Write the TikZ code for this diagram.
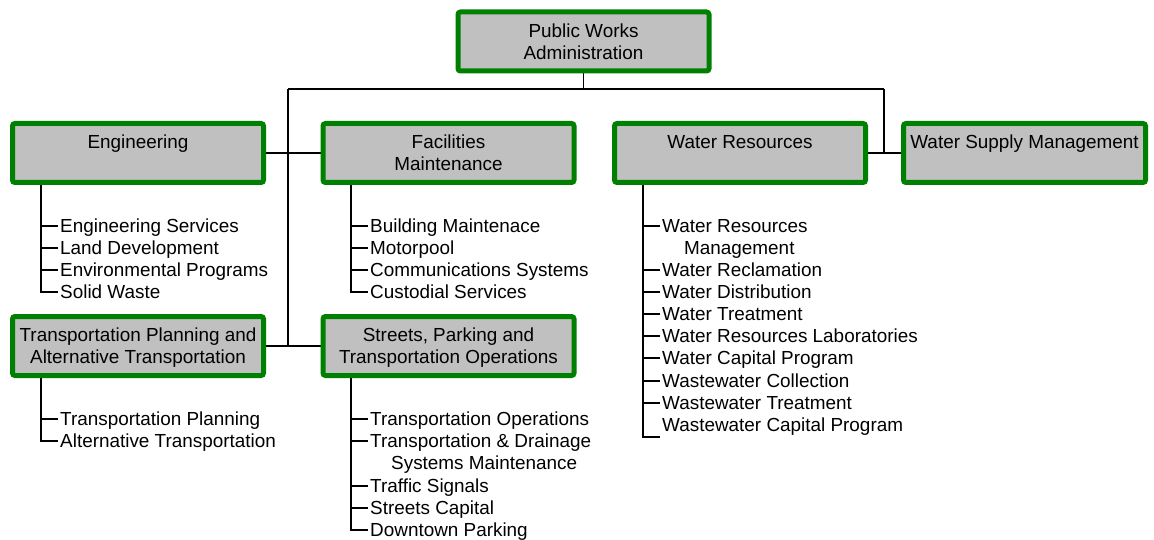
\documentclass[tikz,border=0pt]{standalone}
\usepackage{fontspec}
\setmainfont{Liberation Sans}
\pgfdeclarelayer{bg}
\pgfsetlayers{bg,main}
\definecolor{unitgreen}{HTML}{008000}
\definecolor{unitgray}{HTML}{C0C0C0}
\begin{document}
\begin{tikzpicture}[x=1pt,y=-1pt,
  unit/.style={draw=unitgreen, fill=unitgray, line width=5pt, rounded corners=2.5pt,
    minimum width=251pt, minimum height=59pt, inner sep=0pt, align=center,
    text height=13.4pt, text depth=22pt, font=\fontsize{18.9}{22}\selectfont},
  unit2/.style={unit, text height=35.4pt, text depth=0pt},
  item/.style={anchor=west, inner xsep=2pt, inner ysep=0pt,
    text height=13.4pt, text depth=0pt, font=\fontsize{18.9}{22}\selectfont},
  wire/.style={line width=1.4pt, black}]
\useasboundingbox (0,0) rectangle (1154,540);

% organisational units
\node[unit2] (pwa) at (583.5,41.5) {Public Works\\Administration};
\node[unit]  (eng) at (138,153) {Engineering};
\node[unit2] (fac) at (448.5,153) {Facilities\\Maintenance};
\node[unit]  (wr)  at (740,153) {Water Resources};
\node[unit, minimum width=242pt] (ws) at (1024.5,153) {Water Supply Management};
\node[unit2] (tpa) at (138,346) {Transportation Planning and\\Alternative Transportation};
\node[unit2] (spt) at (448.5,346) {Streets, Parking and\\Transportation Operations};

% Engineering programs
\node[item] (e1) at (58,226) {Engineering Services};
\node[item] (e2) at (58,248) {Land Development};
\node[item] (e3) at (58,270) {Environmental Programs};
\node[item] (e4) at (58,292) {Solid Waste};

% Facilities Maintenance programs
\node[item] (f1) at (368,226) {Building Maintenace};
\node[item] (f2) at (368,248) {Motorpool};
\node[item] (f3) at (368,270) {Communications Systems};
\node[item] (f4) at (368,292) {Custodial Services};

% Transportation Planning programs
\node[item] (t1) at (58,419) {Transportation Planning};
\node[item] (t2) at (58,441) {Alternative Transportation};

% Streets, Parking and Transportation Operations programs
\node[item] (s1)  at (368,419) {Transportation Operations};
\node[item] (s2)  at (368,441) {Transportation \& Drainage};
\node[item] (s2b) at (389,463) {Systems Maintenance};
\node[item] (s3)  at (368,486) {Traffic Signals};
\node[item] (s4)  at (368,508) {Streets Capital};
\node[item] (s5)  at (368,530) {Downtown Parking};

% Water Resources programs
\node[item] (w1)  at (660,226) {Water Resources};
\node[item] (w1b) at (682,248) {Management};
\node[item] (w2)  at (660,270) {Water Reclamation};
\node[item] (w3)  at (660,292) {Water Distribution};
\node[item] (w4)  at (660,314) {Water Treatment};
\node[item] (w5)  at (660,336) {Water Resources Laboratories};
\node[item] (w6)  at (660,358) {Water Capital Program};
\node[item] (w7)  at (660,381) {Wastewater Collection};
\node[item] (w8)  at (660,403) {Wastewater Treatment};
\node[item] (w9)  at (660,425) {Wastewater Capital Program};

\begin{pgfonlayer}{bg}
  % reporting lines
  \coordinate (busL) at (288,89);
  \coordinate (busR) at (884,89);
  \draw[wire] (pwa.south) -- (pwa.south |- busL);
  \draw[wire] (busL) -- (busR);
  \draw[wire] (busL) -- (busL |- tpa.east);
  \draw[wire] (busR) -- (busR |- wr.east);
  \draw[wire] (eng.east) -- (fac.west);
  \draw[wire] (tpa.east) -- (spt.west);
  \draw[wire] (wr.east) -- (ws.west);

  % program trees
  \coordinate (engT) at (41,180);
  \coordinate (facT) at (351,180);
  \coordinate (tpaT) at (41,373);
  \coordinate (sptT) at (351,373);
  \coordinate (wrT)  at (643,180);
  \foreach \i in {e1,e2,e3,e4} \draw[wire] (engT) |- (\i.west);
  \foreach \i in {f1,f2,f3,f4} \draw[wire] (facT) |- (\i.west);
  \foreach \i in {t1,t2} \draw[wire] (tpaT) |- (\i.west);
  \foreach \i in {s1,s2,s3,s4,s5} \draw[wire] (sptT) |- (\i.west);
  \foreach \i in {w1,w2,w3,w4,w5,w6,w7,w8} \draw[wire] (wrT) |- (\i.west);
  \draw[wire] (wrT) |- ([yshift=-12pt]w9.west);
\end{pgfonlayer}
\end{tikzpicture}
\end{document}
